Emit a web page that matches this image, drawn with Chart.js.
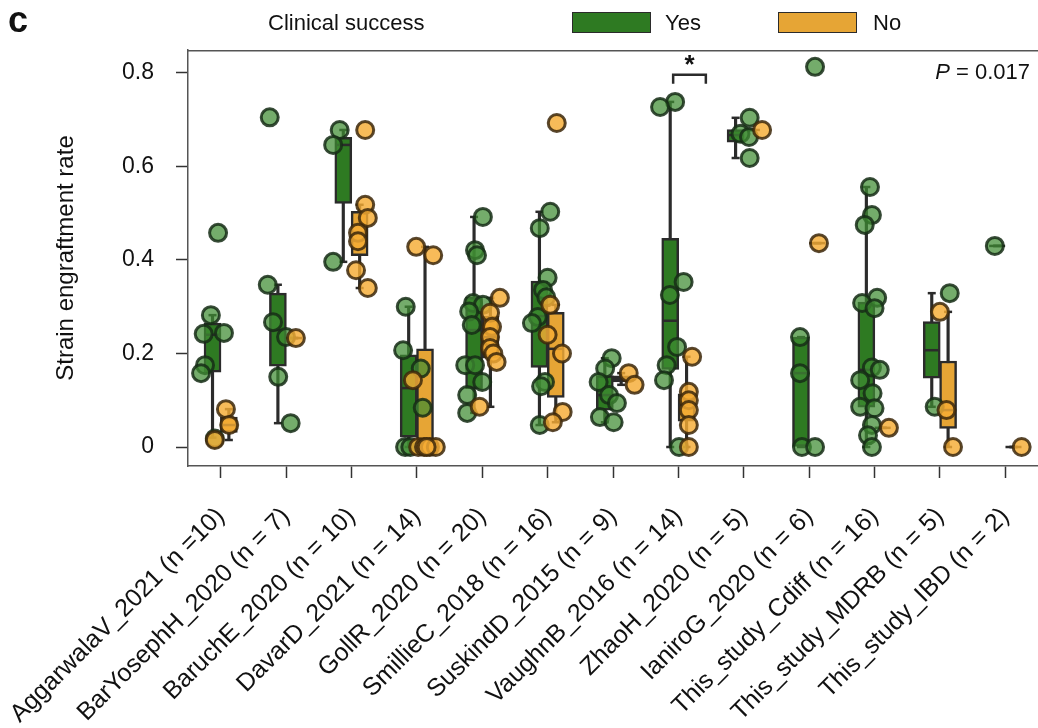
<!DOCTYPE html>
<html><head><meta charset="utf-8">
<script src="https://cdn.jsdelivr.net/npm/chart.js@4.4.1/dist/chart.umd.min.js"></script>
<style>
html,body{margin:0;padding:0;background:#fff;}
#wrap{position:relative;width:1038px;height:728px;overflow:hidden;font-family:"Liberation Sans",Arial,sans-serif;color:#111;}
#c{position:absolute;left:0;top:0;width:1038px;height:728px;}
.lg{position:absolute;font-size:22px;line-height:22px;white-space:nowrap;}
.sw{position:absolute;width:77px;height:19px;border:1.5px solid #2b2b2b;}
</style></head><body>
<div id="wrap">
<canvas id="c" width="1038" height="728"></canvas>
<div class="lg" style="left:8px;top:2px;font-size:36px;line-height:36px;font-weight:bold;">c</div>
<div class="lg" style="left:268px;top:12px;">Clinical success</div>
<div class="sw" style="left:572px;top:12px;background:#2e7a22;"></div>
<div class="lg" style="left:665px;top:12px;">Yes</div>
<div class="sw" style="left:778px;top:12px;background:#e6a535;"></div>
<div class="lg" style="left:873px;top:12px;">No</div>
</div>
<script>
// ---------------- data ----------------
const categories = [
  'AggarwalaV_2021 (n =10)', 'BarYosephH_2020 (n = 7)', 'BaruchE_2020 (n = 10)',
  'DavarD_2021 (n = 14)', 'GollR_2020 (n = 20)', 'SmillieC_2018 (n = 16)',
  'SuskindD_2015 (n = 9)', 'VaughnB_2016 (n = 14)', 'ZhaoH_2020 (n = 5)',
  'IaniroG_2020 (n = 6)', 'This_study_Cdiff (n = 16)', 'This_study_MDRB (n = 5)',
  'This_study_IBD (n = 2)'
];
// strain engraftment rate per sample, clinical success = Yes
const yesValues = [
  [0.458, 0.282, 0.242, 0.244, 0.175, 0.158, 0.018],
  [0.705, 0.347, 0.267, 0.235, 0.15, 0.051],
  [0.678, 0.646, 0.396],
  [0.3, 0.207, 0.168, 0.084, 0, 0],
  [0.492, 0.421, 0.41, 0.308, 0.304, 0.29, 0.261, 0.175, 0.175, 0.139, 0.111, 0.073],
  [0.503, 0.468, 0.362, 0.336, 0.32, 0.278, 0.265, 0.139, 0.13, 0.047],
  [0.19, 0.168, 0.139, 0.111, 0.094, 0.064, 0.053],
  [0.738, 0.727, 0.353, 0.325, 0.214, 0.175, 0.143, 0],
  [0.704, 0.67, 0.663, 0.618],
  [0.813, 0.235, 0.158, 0, 0],
  [0.556, 0.496, 0.475, 0.319, 0.308, 0.297, 0.17, 0.165, 0.143, 0.115, 0.086, 0.083, 0.047, 0.025, 0],
  [0.329, 0.086],
  [0.43]
];
// horizontal strip jitter of each Yes point (category units)
const yesJitter = [
  [-0.04, -0.15, -0.26, 0.05, -0.24, -0.30, -0.09],
  [-0.25, -0.28, -0.20, 0.0, -0.12, 0.07],
  [-0.18, -0.28, -0.28],
  [-0.17, -0.21, 0.06, 0.09, -0.18, -0.10],
  [0.01, -0.11, -0.08, -0.14, 0.01, -0.20, -0.16, -0.26, -0.11, 0.0, -0.23, -0.23],
  [0.04, -0.12, 0.0, -0.07, -0.02, -0.15, -0.24, -0.04, -0.10, -0.12],
  [-0.02, -0.12, -0.22, -0.06, 0.06, -0.20, 0.01],
  [-0.05, -0.28, 0.08, -0.13, -0.02, -0.18, -0.22, 0.01],
  [0.09, -0.05, 0.08, 0.09],
  [0.09, -0.14, -0.14, -0.11, 0.09],
  [-0.07, -0.04, -0.15, 0.04, -0.19, 0.0, -0.04, 0.08, -0.22, -0.03, -0.22, 0.0, -0.04, -0.10, -0.04],
  [0.15, -0.08],
  [-0.16]
];
// clinical success = No
const noValues = [
  [0.081, 0.047, 0.015],
  [0.233],
  [0.678, 0.518, 0.49, 0.458, 0.44, 0.378, 0.34],
  [0.428, 0.41, 0.143, 0, 0, 0, 0, 0],
  [0.319, 0.287, 0.257, 0.235, 0.212, 0.2, 0.182, 0.086],
  [0.693, 0.304, 0.24, 0.2, 0.075, 0.053],
  [0.158, 0.133],
  [0.193, 0.118, 0.1, 0.079, 0.047, 0],
  [0.678],
  [0.436],
  [0.041],
  [0.289, 0.079, 0],
  [0]
];
const noJitter = [
  [0.08, 0.13, -0.09],
  [0.15],
  [0.21, 0.21, 0.25, 0.10, 0.10, 0.07, 0.25],
  [-0.01, 0.25, -0.06, 0.02, 0.11, 0.20, 0.29, 0.15],
  [0.27, 0.12, 0.15, 0.12, 0.12, 0.17, 0.22, -0.04],
  [0.14, 0.04, 0.0, 0.22, 0.23, 0.08],
  [0.24, 0.33],
  [0.21, 0.16, 0.16, 0.16, 0.16, 0.16],
  [0.28],
  [0.15],
  [0.22],
  [0.0, 0.10, 0.20],
  [0.25]
];
// box statistics: [lower whisker, Q1, median, Q3, upper whisker]
const yesBoxes = [
  [0.02, 0.16, 0.24, 0.265, 0.282],
  [0.051, 0.173, 0.25, 0.329, 0.347],
  [0.396, 0.521, 0.646, 0.662, 0.678],
  [0, 0.021, 0.126, 0.197, 0.3],
  [0.073, 0.125, 0.25, 0.32, 0.492],
  [0.047, 0.17, 0.28, 0.355, 0.503],
  [0.053, 0.079, 0.111, 0.153, 0.19],
  [0, 0.166, 0.27, 0.446, 0.738],
  [0.618, 0.652, 0.667, 0.679, 0.704],
  [0, 0, 0.158, 0.235, 0.235],
  [0, 0.085, 0.165, 0.31, 0.556],
  [0.086, 0.147, 0.207, 0.268, 0.329],
  [0.43, 0.43, 0.43, 0.43, 0.43]
];
const noBoxes = [
  [0.015, 0.031, 0.047, 0.064, 0.081],
  [0.233, 0.233, 0.233, 0.233, 0.233],
  [0.34, 0.409, 0.458, 0.504, 0.518],
  [0, 0, 0, 0.21, 0.428],
  [0.086, 0.19, 0.235, 0.28, 0.319],
  [0.053, 0.106, 0.21, 0.288, 0.304],
  [0.133, 0.139, 0.146, 0.152, 0.158],
  [0, 0.055, 0.09, 0.114, 0.193],
  [0.678, 0.678, 0.678, 0.678, 0.678],
  [0.436, 0.436, 0.436, 0.436, 0.436],
  [0.041, 0.041, 0.041, 0.041, 0.041],
  [0, 0.04, 0.079, 0.184, 0.289],
  [0, 0, 0, 0, 0]
];
const yTicks = [0, 0.2, 0.4, 0.6, 0.8];
// significance bracket on VaughnB_2016
const bracketCategory = 7;
const bracketX = [-0.08, 0.42];
const bracketY = [0.777, 0.796];
const starY = 0.823;
const pValueLabel = ['P', ' = 0.017'];

// ---------------- styling ----------------
const FONT = '"Liberation Sans", Arial, sans-serif';
const GREEN = '#2e7a22', ORANGE = '#e6a535', EDGE = '#2b2b2b';
const BOX_OFF = 0.125;

const pts = (vals, jit) => vals.flatMap((arr, i) => arr.map((v, j) => ({x: i + jit[i][j], y: v})));
const boxData = (st, off) => st.map((s, i) => ({x: i + off, y: [s[1], s[3]]})).filter(d => d.y[1] > d.y[0]);
const whiskerData = (st, off) => st.map((s, i) => ({x: i + off, y: [s[0], s[4]]})).filter(d => d.y[1] > d.y[0]);
const medianData = (st, off) => st.map((s, i) => ({x: i + off, y: s[2]}));
const capData = (st, off) => st.flatMap((s, i) => [{x: i + off, y: s[0]}, {x: i + off, y: s[4]}]);

const lineStyle = (r, order, data) => ({
  type: 'scatter', data, order, pointStyle: 'line', pointRadius: r, pointHoverRadius: r,
  borderColor: EDGE, backgroundColor: EDGE, borderWidth: 2.5
});

const datasets = [
  {type: 'bar', data: whiskerData(yesBoxes, -BOX_OFF), grouped: false, barThickness: 2.5, backgroundColor: EDGE, borderWidth: 0, order: 9},
  {type: 'bar', data: whiskerData(noBoxes, BOX_OFF), grouped: false, barThickness: 2.5, backgroundColor: EDGE, borderWidth: 0, order: 9},
  {type: 'bar', data: boxData(yesBoxes, -BOX_OFF), grouped: false, barThickness: 17, backgroundColor: GREEN, borderColor: EDGE, borderWidth: 2.5, borderSkipped: false, order: 8},
  {type: 'bar', data: boxData(noBoxes, BOX_OFF), grouped: false, barThickness: 17, backgroundColor: ORANGE, borderColor: EDGE, borderWidth: 2.5, borderSkipped: false, order: 8},
  lineStyle(8, 7, medianData(yesBoxes, -BOX_OFF)),
  lineStyle(8, 7, medianData(noBoxes, BOX_OFF)),
  lineStyle(4, 7, capData(yesBoxes, -BOX_OFF)),
  lineStyle(4, 7, capData(noBoxes, BOX_OFF)),
  {type: 'scatter', data: pts(yesValues, yesJitter), order: 3, pointRadius: 8.5, pointHoverRadius: 8.5,
   backgroundColor: 'rgba(62,140,50,0.72)', borderColor: 'rgba(22,45,22,0.85)', borderWidth: 3},
  {type: 'scatter', data: pts(noValues, noJitter), order: 2, pointRadius: 8.5, pointHoverRadius: 8.5,
   backgroundColor: 'rgba(245,172,52,0.82)', borderColor: 'rgba(60,40,12,0.85)', borderWidth: 3},
  {type: 'line', order: 1, data: [
     {x: bracketCategory + bracketX[0], y: bracketY[0]}, {x: bracketCategory + bracketX[0], y: bracketY[1]},
     {x: bracketCategory + bracketX[1], y: bracketY[1]}, {x: bracketCategory + bracketX[1], y: bracketY[0]}],
   borderColor: EDGE, borderWidth: 2.5, pointRadius: 0, fill: false, tension: 0}
];

const annot = {
  id: 'annot',
  afterDraw(chart) {
    const {ctx, chartArea: a, scales: {x, y}} = chart;
    ctx.save();
    // top frame line
    ctx.strokeStyle = '#555'; ctx.lineWidth = 1.5;
    ctx.beginPath(); ctx.moveTo(a.left, a.top + 0.75); ctx.lineTo(a.right, a.top + 0.75); ctx.stroke();
    // star
    ctx.fillStyle = '#111';
    ctx.font = 'bold 26px ' + FONT; ctx.textAlign = 'center'; ctx.textBaseline = 'middle';
    ctx.fillText('*', x.getPixelForValue(bracketCategory + (bracketX[0] + bracketX[1]) / 2), y.getPixelForValue(starY) + 4);
    // P value
    ctx.textBaseline = 'middle'; ctx.textAlign = 'left';
    ctx.font = '22px ' + FONT;
    const restW = ctx.measureText(pValueLabel[1]).width;
    ctx.font = 'italic 22px ' + FONT;
    const pW = ctx.measureText(pValueLabel[0]).width;
    const xr = a.right - 8, yy = y.getPixelForValue(0.8);
    ctx.fillText(pValueLabel[0], xr - restW - pW, yy);
    ctx.font = '22px ' + FONT;
    ctx.fillText(pValueLabel[1], xr - restW, yy);
    ctx.restore();
  }
};

new Chart(document.getElementById('c'), {
  type: 'bar',
  data: {datasets},
  plugins: [annot],
  options: {
    responsive: false, animation: false, events: [],
    layout: {autoPadding: false, padding: {top: 50, left: 0, right: 0, bottom: 0}},
    plugins: {legend: {display: false}, tooltip: {enabled: false}},
    scales: {
      x: {
        type: 'linear', min: -0.5, max: categories.length - 0.5, offset: false,
        afterBuildTicks: s => { s.ticks = categories.map((_, i) => ({value: i})); },
        afterFit: s => { s.height = 262; s.paddingLeft = 0; s.paddingRight = 0; },
        ticks: {
          autoSkip: false, minRotation: 45, maxRotation: 45, padding: 24,
          color: '#111', font: {family: FONT, size: 25},
          callback: v => categories[v]
        },
        grid: {display: true, offset: false, drawOnChartArea: false, tickLength: 12, tickColor: '#333', tickWidth: 1.5},
        border: {display: true, color: '#555', width: 1.5}
      },
      y: {
        type: 'linear', min: -0.0406, max: 0.849,
        afterBuildTicks: s => { s.ticks = yTicks.map(v => ({value: v})); },
        afterFit: s => { s.width = 188; },
        ticks: {
          padding: 22, color: '#111', font: {family: FONT, size: 23},
          callback: v => (v === 0 ? '0' : v.toFixed(1))
        },
        grid: {display: true, drawOnChartArea: false, tickLength: 12, tickColor: '#333', tickWidth: 1.5},
        border: {display: true, color: '#555', width: 1.5},
        title: {display: true, text: 'Strain engraftment rate', color: '#111',
                font: {family: FONT, size: 24}, padding: {top: 52, bottom: 0}}
      }
    }
  }
});
</script>
</body></html>
